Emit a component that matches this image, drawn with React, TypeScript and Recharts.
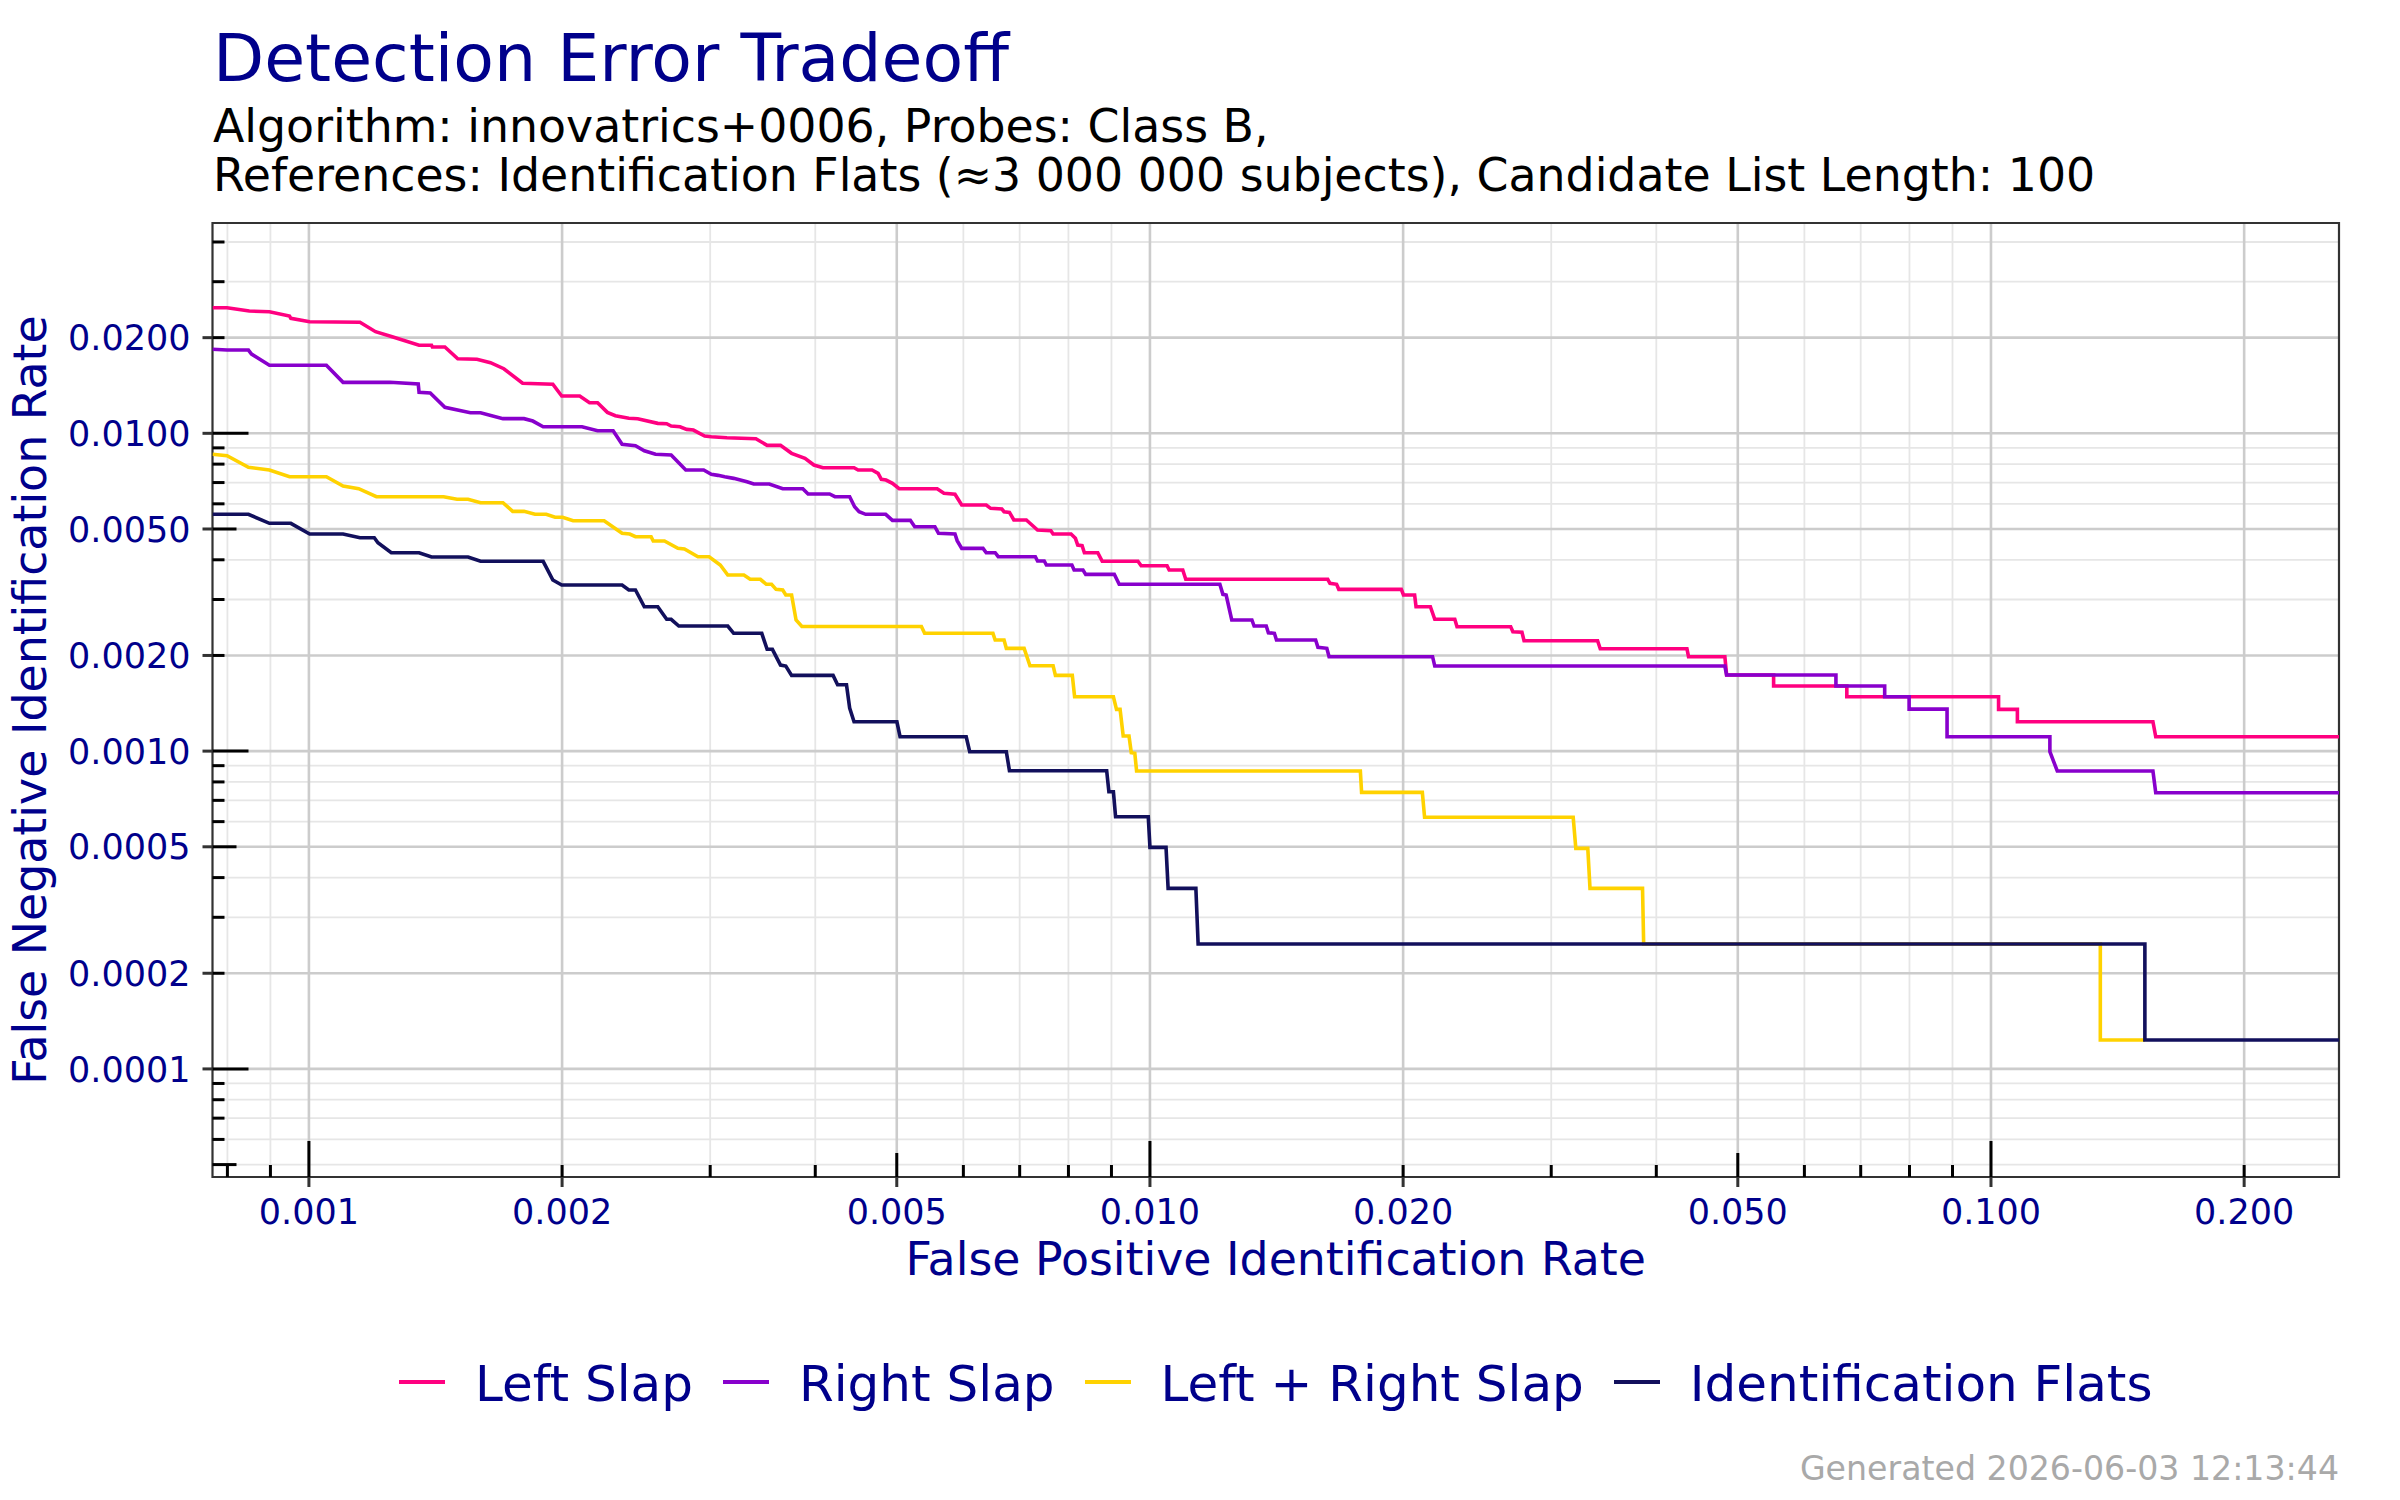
import React from 'react';
import { LineChart, Line, XAxis, YAxis, CartesianGrid, ReferenceArea } from 'recharts';

const FONT = '"DejaVu Sans", "Noto Sans", sans-serif';
const TEXT_BLUE = '#00008B';

const TITLE = 'Detection Error Tradeoff';
const SUBTITLE_1 = 'Algorithm: innovatrics+0006, Probes: Class B,';
const SUBTITLE_2 = 'References: Identification Flats (\u22483 000 000 subjects), Candidate List Length: 100';
const X_TITLE = 'False Positive Identification Rate';
const Y_TITLE = 'False Negative Identification Rate';
const GENERATED = 'Generated 2026-06-03 12:13:44';

const SERIES_NAMES = ['Left Slap', 'Right Slap', 'Left + Right Slap', 'Identification Flats'];
const SERIES_COLORS = ['#FF0080', '#8800CC', '#FFD200', '#12105C'];

const X_DOMAIN = [0.000768, 0.2593];
const Y_DOMAIN = [0.0000457, 0.0459];

const X_LABEL_TICKS = [0.001, 0.002, 0.005, 0.01, 0.02, 0.05, 0.1, 0.2];
const X_MINOR_TICKS = [0.0008, 0.0009, 0.003, 0.004, 0.006, 0.007, 0.008, 0.009, 0.03, 0.04, 0.06, 0.07, 0.08, 0.09];
const Y_LABEL_TICKS = [0.0001, 0.0002, 0.0005, 0.001, 0.002, 0.005, 0.01, 0.02];
const Y_MINOR_TICKS = [0.00005, 0.00006, 0.00007, 0.00008, 0.00009, 0.0003, 0.0004, 0.0006, 0.0007, 0.0008, 0.0009, 0.003, 0.004, 0.006, 0.007, 0.008, 0.009, 0.03, 0.04];

const LEFT_SLAP: [number, number][] = [
  [0.000768, 0.02484], [0.0007992, 0.02484], [0.0008494, 0.02425], [0.0008975, 0.02413], [0.0009483, 0.02339],
  [0.0009517, 0.02301], [0.001002, 0.02245], [0.00115, 0.02235], [0.0012, 0.02088], [0.001256, 0.02014],
  [0.001352, 0.01892], [0.001399, 0.01892], [0.001402, 0.01869], [0.001451, 0.01869], [0.001503, 0.01717],
  [0.001584, 0.0171], [0.001644, 0.01668], [0.001705, 0.01597], [0.001795, 0.01437], [0.00195, 0.01427],
  [0.001998, 0.0131], [0.002099, 0.0131], [0.002156, 0.01248], [0.002204, 0.01248], [0.002264, 0.01164],
  [0.002314, 0.01136], [0.002401, 0.01115], [0.00246, 0.01112], [0.002599, 0.01075], [0.002663, 0.01072],
  [0.002696, 0.01054], [0.002762, 0.01049], [0.002813, 0.01029], [0.002865, 0.01024], [0.002955, 0.009806],
  [0.003009, 0.009757], [0.003141, 0.009687], [0.0034, 0.009616], [0.003506, 0.009167], [0.003637, 0.009167],
  [0.003749, 0.008651], [0.003889, 0.008344], [0.003985, 0.007946], [0.004085, 0.007794], [0.004448, 0.007794],
  [0.004498, 0.007666], [0.004673, 0.007666], [0.004751, 0.007484], [0.004793, 0.007166], [0.004855, 0.007128],
  [0.004941, 0.00696], [0.005033, 0.006694], [0.005585, 0.006694], [0.005689, 0.006476], [0.005864, 0.006429],
  [0.005973, 0.005948], [0.006388, 0.005948], [0.006465, 0.005807], [0.006667, 0.005778], [0.006707, 0.005666],
  [0.006807, 0.005641], [0.006889, 0.005336], [0.007129, 0.005336], [0.007217, 0.005184], [0.007351, 0.004963],
  [0.007625, 0.004938], [0.007671, 0.004821], [0.008057, 0.004821], [0.008154, 0.004673], [0.008206, 0.004451],
  [0.008305, 0.004429], [0.008357, 0.00421], [0.008669, 0.00421], [0.008775, 0.003956], [0.009677, 0.003956],
  [0.009762, 0.003832], [0.01048, 0.003832], [0.01054, 0.003715], [0.01094, 0.003715], [0.01103, 0.003473],
  [0.01627, 0.003473], [0.01637, 0.003373], [0.01667, 0.003349], [0.01677, 0.003229], [0.0199, 0.003229],
  [0.02002, 0.003099], [0.02064, 0.003099], [0.02072, 0.002847], [0.02155, 0.002847], [0.02181, 0.002599],
  [0.02304, 0.002599], [0.02318, 0.002462], [0.02685, 0.002462], [0.02701, 0.002375], [0.02769, 0.002365],
  [0.02785, 0.002225], [0.03406, 0.002225], [0.03431, 0.0021], [0.0435, 0.0021], [0.04369, 0.001982],
  [0.04826, 0.001982], [0.04849, 0.001736], [0.05515, 0.001736], [0.05515, 0.001603], [0.06739, 0.001603],
  [0.06739, 0.001483], [0.1021, 0.001483], [0.1021, 0.001353], [0.1075, 0.001353], [0.1075, 0.001237],
  [0.1558, 0.001237], [0.157, 0.00111], [0.2593, 0.00111],
];

const RIGHT_SLAP: [number, number][] = [
  [0.000768, 0.01838], [0.0007992, 0.01828], [0.0008474, 0.01828], [0.0008546, 0.01776], [0.0008975, 0.01637],
  [0.001049, 0.01637], [0.001098, 0.01447], [0.001248, 0.01447], [0.001349, 0.0143], [0.001352, 0.01346],
  [0.001394, 0.01339], [0.001451, 0.01207], [0.001556, 0.01161], [0.0016, 0.01161], [0.001701, 0.01112],
  [0.001802, 0.01112], [0.001846, 0.01093], [0.001899, 0.01049], [0.002112, 0.01049], [0.002204, 0.01019],
  [0.0023, 0.01019], [0.002357, 0.009235], [0.002445, 0.009141], [0.002505, 0.008814], [0.002583, 0.008588],
  [0.002696, 0.008545], [0.002806, 0.007666], [0.002947, 0.007666], [0.003009, 0.00743], [0.003065, 0.007375],
  [0.003122, 0.0073], [0.003199, 0.007216], [0.003258, 0.007128], [0.003318, 0.007042], [0.00338, 0.006925],
  [0.003527, 0.006925], [0.003659, 0.006694], [0.003866, 0.006694], [0.003922, 0.006442], [0.00416, 0.006442],
  [0.004221, 0.006317], [0.004395, 0.006317], [0.004455, 0.005875], [0.00451, 0.005666], [0.004592, 0.005561],
  [0.004851, 0.005561], [0.004941, 0.005324], [0.005189, 0.005324], [0.005252, 0.005083], [0.00555, 0.005083],
  [0.005605, 0.004846], [0.005864, 0.004821], [0.005899, 0.004594], [0.005973, 0.004346], [0.006332, 0.004346],
  [0.006388, 0.00421], [0.006546, 0.00421], [0.006601, 0.00409], [0.007307, 0.00409], [0.007351, 0.003965],
  [0.007487, 0.003965], [0.007532, 0.003851], [0.008076, 0.003851], [0.008125, 0.003715], [0.008325, 0.003715],
  [0.008387, 0.0036], [0.00907, 0.0036], [0.009192, 0.003349], [0.01211, 0.003349], [0.01221, 0.003114],
  [0.01232, 0.003099], [0.01251, 0.002586], [0.01322, 0.002586], [0.0133, 0.002475], [0.01375, 0.002475],
  [0.01383, 0.002358], [0.01406, 0.002348], [0.01414, 0.002237], [0.01574, 0.002237], [0.01584, 0.002121],
  [0.01623, 0.002106], [0.01633, 0.001982], [0.02168, 0.001982], [0.02181, 0.001852], [0.04826, 0.001852],
  [0.04849, 0.001736], [0.06541, 0.001736], [0.06541, 0.001603], [0.07475, 0.001603], [0.07475, 0.001483],
  [0.07992, 0.001483], [0.07992, 0.001356], [0.08867, 0.001356], [0.08867, 0.00111], [0.1175, 0.00111],
  [0.1175, 0.0009957], [0.1199, 0.0008659], [0.1558, 0.0008659], [0.157, 0.0007396], [0.2593, 0.0007396],
];

const LEFT_RIGHT_SLAP: [number, number][] = [
  [0.000768, 0.008588], [0.0007992, 0.008502], [0.0008474, 0.007817], [0.0008975, 0.007666], [0.0009483, 0.0073],
  [0.001049, 0.0073], [0.001098, 0.006826], [0.001146, 0.006694], [0.001203, 0.006317], [0.001446, 0.006317],
  [0.0015, 0.006199], [0.001546, 0.006199], [0.0016, 0.006048], [0.001701, 0.006048], [0.001747, 0.005682],
  [0.001802, 0.005682], [0.001857, 0.005561], [0.001915, 0.005561], [0.001962, 0.005442], [0.002003, 0.005442],
  [0.002061, 0.005309], [0.002244, 0.005309], [0.002357, 0.004846], [0.002407, 0.004821], [0.002445, 0.004728],
  [0.002552, 0.004728], [0.002567, 0.004583], [0.002647, 0.004583], [0.002746, 0.004346], [0.002796, 0.004325],
  [0.002901, 0.00409], [0.002991, 0.00409], [0.003084, 0.003851], [0.003148, 0.003582], [0.00329, 0.003582],
  [0.003347, 0.003473], [0.003442, 0.003473], [0.003498, 0.003349], [0.003549, 0.003349], [0.003593, 0.003229],
  [0.003659, 0.003213], [0.00369, 0.003099], [0.003749, 0.003099], [0.003795, 0.002586], [0.003856, 0.002468],
  [0.005349, 0.002468], [0.005396, 0.002348], [0.006506, 0.002348], [0.006546, 0.002237], [0.006707, 0.002237],
  [0.006749, 0.002106], [0.007086, 0.002106], [0.0072, 0.001856], [0.007671, 0.001856], [0.00772, 0.001731],
  [0.008085, 0.001731], [0.008136, 0.001483], [0.009048, 0.001483], [0.009125, 0.001353], [0.009215, 0.001353],
  [0.009294, 0.001116], [0.009443, 0.001116], [0.009502, 0.0009886], [0.009594, 0.0009842], [0.009641, 0.0008659],
  [0.01779, 0.0008659], [0.01785, 0.0007418], [0.02108, 0.0007418], [0.02121, 0.000619], [0.03186, 0.000619],
  [0.03209, 0.0004944], [0.03316, 0.0004944], [0.03336, 0.00037], [0.03852, 0.00037], [0.03864, 0.0002472],
  [0.1349, 0.0002472], [0.1349, 0.0001233], [0.1524, 0.0001233],
];

const IDENTIFICATION_FLATS: [number, number][] = [
  [0.000768, 0.005561], [0.0008474, 0.005561], [0.0008975, 0.00521], [0.0009517, 0.00521], [0.001002, 0.004821],
  [0.001098, 0.004821], [0.00115, 0.004693], [0.001196, 0.004693], [0.001208, 0.004526], [0.001253, 0.00421],
  [0.001352, 0.00421], [0.001399, 0.004081], [0.001546, 0.004081], [0.0016, 0.003956], [0.001899, 0.003956],
  [0.00195, 0.003455], [0.001998, 0.003331], [0.002357, 0.003331], [0.002401, 0.003213], [0.002445, 0.003213],
  [0.002505, 0.002847], [0.002599, 0.002847], [0.002663, 0.002599], [0.002696, 0.002599], [0.002753, 0.002475],
  [0.003148, 0.002475], [0.003199, 0.002348], [0.003455, 0.002348], [0.003506, 0.002091], [0.003557, 0.002091],
  [0.003637, 0.001866], [0.00369, 0.001852], [0.003749, 0.001731], [0.0042, 0.001731], [0.004252, 0.001618],
  [0.004357, 0.001618], [0.004395, 0.001366], [0.004448, 0.001237], [0.005002, 0.001237], [0.005045, 0.00111],
  [0.006047, 0.00111], [0.006105, 0.0009957], [0.006749, 0.0009957], [0.006807, 0.0008678], [0.008883, 0.0008678],
  [0.008937, 0.0007451], [0.009048, 0.0007451], [0.009102, 0.0006217], [0.009954, 0.0006217], [0.01, 0.000498],
  [0.01045, 0.000498], [0.01051, 0.00037], [0.01134, 0.00037], [0.01141, 0.0002472], [0.1524, 0.0002472],
  [0.1524, 0.0001233], [0.2593, 0.0001233],
];

const SERIES_DATA = [LEFT_SLAP, RIGHT_SLAP, LEFT_RIGHT_SLAP, IDENTIFICATION_FLATS];

const toPoints = (arr: [number, number][]) => arr.map(([x, y]) => ({ x, y }));
const X_ALL_TICKS = [...X_MINOR_TICKS, ...X_LABEL_TICKS].sort((a, b) => a - b);
const Y_ALL_TICKS = [...Y_MINOR_TICKS, ...Y_LABEL_TICKS].sort((a, b) => a - b);

const leadDigit = (v: number) => Number(v.toExponential(0).charAt(0));
const logTickLen = (v: number) => {
  const d = leadDigit(v);
  return d === 1 ? 36 : d === 5 ? 24 : 12;
};

function XTick(props: any) {
  const { x, y, payload } = props;
  const v = payload.value as number;
  const labeled = X_LABEL_TICKS.includes(v);
  return (
    <g>
      <line x1={x} x2={x} y1={y} y2={y - logTickLen(v)} stroke="#000" strokeWidth={3} />
      {labeled && <line x1={x} x2={x} y1={y} y2={y + 10} stroke="#333" strokeWidth={3} />}
      {labeled && (
        <text x={x} y={y + 47} textAnchor="middle" fontFamily={FONT} fontSize={35} fill={TEXT_BLUE}>
          {v.toFixed(3)}
        </text>
      )}
    </g>
  );
}

function YTick(props: any) {
  const { x, y, payload } = props;
  const v = payload.value as number;
  const labeled = Y_LABEL_TICKS.includes(v);
  return (
    <g>
      <line x1={x} x2={x + logTickLen(v)} y1={y} y2={y} stroke="#000" strokeWidth={3} />
      {labeled && <line x1={x - 10} x2={x} y1={y} y2={y} stroke="#333" strokeWidth={3} />}
      {labeled && (
        <text x={x - 22} y={y} dy={12.6} textAnchor="end" fontFamily={FONT} fontSize={35} fill={TEXT_BLUE}>
          {v.toFixed(4)}
        </text>
      )}
    </g>
  );
}

export default function App() {
  return (
    <div style={{ position: 'absolute', left: 0, top: 0, width: 2400, height: 1500, background: '#fff', fontFamily: FONT }}>
      <LineChart width={2400} height={1500} margin={{ top: 223, right: 61, bottom: 213, left: 0 }}>
        <CartesianGrid
          horizontalValues={Y_MINOR_TICKS}
          verticalValues={X_MINOR_TICKS}
          stroke="#E6E6E6"
          strokeWidth={1.8}
        />
        <CartesianGrid
          horizontalValues={Y_LABEL_TICKS}
          verticalValues={X_LABEL_TICKS}
          stroke="#CCCCCC"
          strokeWidth={2.6}
        />
        <XAxis
          dataKey="x"
          type="number"
          scale="log"
          domain={X_DOMAIN}
          allowDataOverflow
          ticks={X_ALL_TICKS}
          interval={0}
          height={110}
          tickSize={0}
          tickMargin={0}
          tickLine={false}
          axisLine={false}
          tick={XTick}
        />
        <YAxis
          dataKey="y"
          type="number"
          scale="log"
          domain={Y_DOMAIN}
          allowDataOverflow
          ticks={Y_ALL_TICKS}
          interval={0}
          width={212.5}
          tickSize={0}
          tickMargin={0}
          tickLine={false}
          axisLine={false}
          tick={YTick}
        />
        <ReferenceArea
          x1={X_DOMAIN[0]}
          x2={X_DOMAIN[1]}
          y1={Y_DOMAIN[0]}
          y2={Y_DOMAIN[1]}
          fill="none"
          fillOpacity={0}
          stroke="#333333"
          strokeWidth={2.2}
          ifOverflow="visible"
        />
        {SERIES_DATA.map((arr, i) => (
          <Line
            key={SERIES_NAMES[i]}
            name={SERIES_NAMES[i]}
            data={toPoints(arr)}
            dataKey="y"
            type="linear"
            stroke={SERIES_COLORS[i]}
            strokeWidth={3.6}
            dot={false}
            activeDot={false}
            isAnimationActive={false}
          />
        ))}
      </LineChart>
      <svg
        width={2400}
        height={1500}
        style={{ position: 'absolute', left: 0, top: 0, pointerEvents: 'none' }}
      >
        <text x={213} y={81} fontFamily={FONT} fontSize={66.5} fill={TEXT_BLUE}>{TITLE}</text>
        <text x={213} y={141.7} fontFamily={FONT} fontSize={45.8} fill="#000">{SUBTITLE_1}</text>
        <text x={213} y={190.7} fontFamily={FONT} fontSize={45.8} fill="#000">{SUBTITLE_2}</text>
        <text x={1275.7} y={1275} textAnchor="middle" fontFamily={FONT} fontSize={45.8} fill={TEXT_BLUE}>{X_TITLE}</text>
        <text
          x={46}
          y={700}
          textAnchor="middle"
          transform="rotate(-90 46 700)"
          fontFamily={FONT}
          fontSize={45.8}
          fill={TEXT_BLUE}
        >
          {Y_TITLE}
        </text>
        <text x={2339} y={1480} textAnchor="end" fontFamily={FONT} fontSize={33.2} fill="#A9A9A9">{GENERATED}</text>
      </svg>
      <div
        style={{
          position: 'absolute',
          left: 212.5,
          top: 1359,
          width: 2126.5,
          display: 'flex',
          justifyContent: 'center',
          alignItems: 'center',
          fontFamily: FONT,
          fontSize: 50,
          lineHeight: 1,
          color: TEXT_BLUE,
          whiteSpace: 'nowrap',
        }}
      >
        {SERIES_NAMES.map((name, i) => (
          <div key={name} style={{ display: 'flex', alignItems: 'center', marginLeft: i === 0 ? 0 : 30 }}>
            <span
              style={{
                display: 'inline-block',
                width: 46,
                height: 4,
                background: SERIES_COLORS[i],
                position: 'relative',
                top: -2,
              }}
            />
            <span style={{ marginLeft: 30 }}>{name}</span>
          </div>
        ))}
      </div>
    </div>
  );
}
